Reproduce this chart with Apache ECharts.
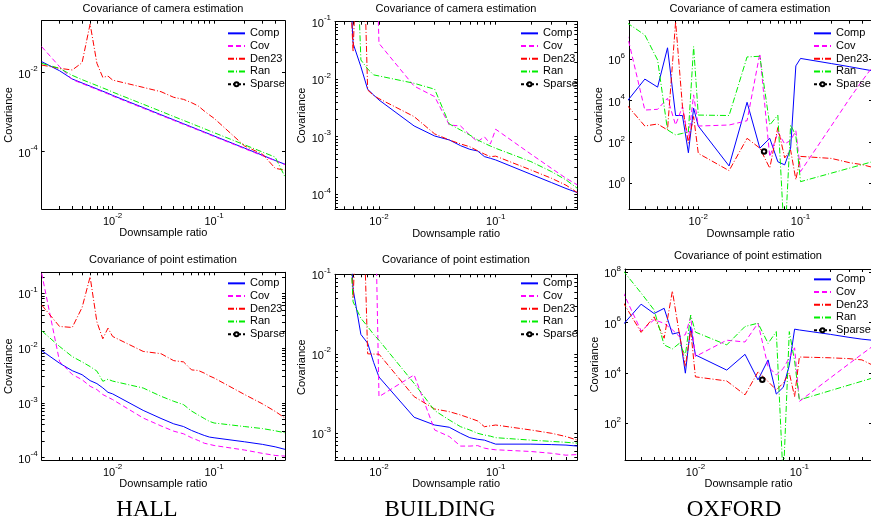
<!DOCTYPE html>
<html>
<head>
<meta charset="utf-8">
<script src="https://cdn.jsdelivr.net/npm/echarts@6/dist/echarts.min.js"></script>
<style>
  html, body { margin: 0; padding: 0; background: #fff; }
  #chart { width: 871px; height: 525px; }
</style>
</head>
<body>
<div id="chart"></div>
<script>
// downsample ratios shared by every curve
const ratio = [0.002, 0.003, 0.004, 0.005, 0.006, 0.007, 0.008, 0.009,
  0.01, 0.02, 0.03, 0.04, 0.05, 0.06, 0.07, 0.08, 0.09, 0.1, 0.2, 0.3, 0.4, 0.5];

// HALL - camera
const hallCamComp = [0.0190, 0.0112, 0.00692, 0.00550, 0.00456, 0.00389, 0.00339, 0.00301, 0.00266, 0.00131, 0.00086,
  6.41e-4, 5.10e-4, 4.23e-4, 3.60e-4, 3.15e-4, 2.79e-4, 2.50e-4, 1.23e-4, 8.1e-5, 6.0e-5, 4.8e-5];
const hallCamCov = [0.0455, 0.0142, 0.0067, 0.0053, 0.0044, 0.00375, 0.00327, 0.0029, 0.00256, 0.00126, 8.3e-4,
  6.2e-4, 4.9e-4, 4.1e-4, 3.5e-4, 3.05e-4, 2.7e-4, 2.42e-4, 1.19e-4, 7.9e-5, 5.9e-5, 4.7e-5];
const hallCamDen = [0.0156, 0.0129, 0.0117, 0.0179, 0.171, 0.0173, 0.0076, 0.0082, 0.0065, 0.00425, 0.0033,
  0.00238, 0.00211, 0.00174, 0.00143, 0.00107, 8.5e-4, 7.0e-4, 1.39e-4, 8.7e-5, 3.8e-5, 3.4e-5];
const hallCamRan = [0.0172, 0.0129, 0.00856, 0.00667, 0.00553, 0.00472, 0.00411, 0.00365, 0.00323, 0.00159, 0.00105,
  7.78e-4, 6.19e-4, 5.14e-4, 4.38e-4, 3.82e-4, 3.38e-4, 3.03e-4, 1.49e-4, 9.8e-5, 7.3e-5, 2.3e-5];

// BUILDING - camera
const bldCamComp = [100, 100, 100, 100, 0.042, 0.0165, 0.00668, 0.00532, 0.00436, 0.00154, 0.00103,
  8.8e-4, 7.0e-4, 6.05e-4, 5.66e-4, 4.52e-4, 4.22e-4, 3.95e-4, 2.23e-4, 1.60e-4, 1.26e-4, 1.07e-4];
const bldCamCov = [100, 100, 100, 100, 100, 100, 100, 100, 0.042, 0.0076, 0.00498,
  0.0016, 0.00154, 0.00107, 8.2e-4, 1.0e-3, 7.5e-4, 1.35e-3, 5.0e-4, 2.83e-4, 1.9e-4, 1.46e-4];
const bldCamDen = [100, 100, 100, 100, 0.030, 100, 0.0065, 0.0052, 0.0046, 0.00224, 0.00112,
  8.8e-4, 7.5e-4, 6.7e-4, 5.7e-4, 5.0e-4, 4.5e-4, 4.6e-4, 2.65e-4, 1.9e-4, 1.44e-4, 1.07e-4];
const bldCamRan = [100, 100, 100, 100, 100, 0.0216, 0.0151, 0.0119, 0.0114, 0.0085, 0.0067,
  0.00167, 0.00131, 0.00107, 8.8e-4, 7.7e-4, 6.9e-4, 6.3e-4, 3.7e-4, 2.48e-4, 1.78e-4, 1.27e-4];

// OXFORD - camera
const oxCamComp = [8900, 1.1e5, 4.5e4, 3.6e6, 1900, 1900, 30, 4300, 590, 6.9, 8300,
  50, 150, 11, 7.8, 50, 4.8e5, 1.1e6, 6.2e5, 4.4e5, 3.4e5, 2.8e5];
const oxCamCov = [1.8e7, 3500, 3800, 1.3e4, 660, 5200, 126, 1.9e4, 590, 660, 1070,
  1.9e6, 19, 300, 80, 120, 350, 3.7, 600, 1.2e4, 9e4, 4e5];
const oxCamDen = [6200, 590, 740, 380, 6.6e7, 5200, 87, 1700, 28, 4.1, 150,
  50, 5.4, 500, 17, 40, 1.5, 20, 16, 10, 8, 6];
const oxCamRan = [5.9e7, 1.5e7, 9.2e5, 380, 220, 260, 300, 4.1e6, 2000, 1900, 1.3e6,
  1.4e6, 660, 2000, 0.001, 660, 200, 1.2, 3.1, 5.4, 8, 11];

// HALL - points
const hallPtComp = [0.0090, 0.0053, 0.00387, 0.00327, 0.00255, 0.00225, 0.00188, 0.00156, 0.00146, 7.3e-4, 5.2e-4,
  4.15e-4, 3.7e-4, 3.14e-4, 2.8e-4, 2.55e-4, 2.38e-4, 2.31e-4, 1.95e-4, 1.75e-4, 1.58e-4, 1.42e-4];
const hallPtCov = [0.23, 0.0057, 0.0033, 0.00265, 0.00201, 0.00175, 0.00142, 0.00127, 0.00115, 5.3e-4, 3.8e-4,
  3.05e-4, 2.73e-4, 2.31e-4, 2.06e-4, 1.84e-4, 1.75e-4, 1.67e-4, 1.38e-4, 1.2e-4, 1.1e-4, 1.07e-4];
const hallPtDen = [0.061, 0.0248, 0.0238, 0.055, 0.20, 0.030, 0.0148, 0.0231, 0.0163, 0.0087, 0.0079,
  0.0059, 0.0056, 0.0040, 0.0039, 0.0035, 0.0031, 0.00285, 0.00142, 9.6e-4, 7.0e-4, 5.3e-4];
const hallPtRan = [0.0207, 0.0107, 0.0070, 0.0056, 0.0046, 0.0038, 0.00248, 0.0027, 0.0025, 0.00187, 0.00132,
  0.00107, 9.3e-4, 7.1e-4, 6.0e-4, 5.2e-4, 4.6e-4, 4.3e-4, 3.7e-4, 3.4e-4, 3.1e-4, 2.85e-4];

// BUILDING - points
const bldPtComp = [10, 10, 10, 10, 0.065, 0.0175, 0.0136, 0.0078, 0.0051, 0.00159, 0.00127,
  0.00119, 0.0010, 8.8e-4, 8.4e-4, 8.2e-4, 7.7e-4, 7.3e-4, 7.3e-4, 7.2e-4, 7.1e-4, 6.9e-4];
const bldPtCov = [10, 10, 10, 10, 10, 10, 10, 10, 0.00289, 0.00542, 0.0011,
  9.1e-4, 6.9e-4, 6.9e-4, 7.0e-4, 6.5e-4, 6.3e-4, 6.2e-4, 5.9e-4, 5.6e-4, 5.3e-4, 5.4e-4];
const bldPtDen = [10, 10, 10, 10, 0.05, 10, 0.0100, 0.0099, 0.0099, 0.00289, 0.00202,
  0.00187, 0.0017, 0.00155, 0.00143, 0.00121, 0.00124, 0.00127, 0.0011, 0.0010, 9.1e-4, 8.2e-4];
const bldPtRan = [10, 10, 10, 10, 0.045, 0.028, 0.022, 0.0175, 0.0148, 0.00425, 0.00193,
  0.00147, 0.00121, 0.0011, 0.0010, 9.5e-4, 9.2e-4, 8.8e-4, 8.2e-4, 7.9e-4, 7.7e-4, 7.5e-4];

// OXFORD - points
const oxPtComp = [8.1e5, 5.4e6, 2.3e6, 3.7e6, 3.5e5, 4.1e5, 9800, 6.9e5, 5.2e4, 1.3e4, 5.5e4,
  5300, 3.3e4, 1450, 2700, 2e4, 5.5e5, 5.1e5, 3.4e5, 2.6e5, 2.2e5, 2.0e5];
const oxPtCov = [1.7e7, 4.7e5, 1.3e6, 9.4e5, 5.2e5, 2.8e5, 3.3e5, 1.7e6, 4.5e4, 2e5, 1.7e5,
  9.5e5, 1.8e4, 8300, 1.5e4, 4e4, 1e5, 740, 6500, 2.3e4, 5.6e4, 1.1e5];
const oxPtDen = [6.8e6, 4.1e5, 1.7e6, 2.4e5, 1.8e7, 3.6e5, 1.8e4, 5e5, 7000, 4800, 1350,
  1.1e4, 4600, 2100, 4000, 1e4, 1150, 4.3e4, 4e4, 3.7e4, 3.3e4, 2.1e4];
const oxPtRan = [1.2e8, 1.5e7, 3.2e6, 1.3e5, 9e4, 1.5e5, 5e4, 2e6, 4.2e5, 1.3e5, 7e5,
  9.5e5, 1.5e5, 4.4e5, 0.5, 4.4e5, 3e4, 850, 2000, 3300, 4700, 6200];

// single Sparse result (OXFORD only)
const sparseRatio = [0.044];
const oxCamSparse = [35];
const oxPtSparse = [5400];

const seriesNames = ['Comp', 'Cov', 'Den23', 'Ran', 'Sparse'];
const xTickLabels = [0.01, 0.1];
const plotTitles = ['Covariance of camera estimation', 'Covariance of camera estimation', 'Covariance of camera estimation',
  'Covariance of point estimation', 'Covariance of point estimation', 'Covariance of point estimation'];
const datasetNames = ['HALL', 'BUILDING', 'OXFORD'];

const FONT = '"Liberation Sans", Arial, sans-serif';

const lineStyles = {
  Comp: {color: '#0000ff', type: 'solid'},
  Cov: {color: '#ff00ff', type: [5, 3]},
  Den23: {color: '#ff0000', type: [6, 2, 1, 2]},
  Ran: {color: '#00ee00', type: [6, 2, 1, 2]}
};

// layout of the six axes boxes
const panels = [
  {box: [41.7, 20.7, 243.3, 188.3], x: [0.002, 0.5], y: [3.54e-6, 0.207], yTicks: [1e-4, 1e-2], minorY: false,
    lines: [hallCamComp, hallCamCov, hallCamDen, hallCamRan], sparse: null, legend: [227, 27], title: [163, 8.5]},
  {box: [335, 21.7, 242.3, 187.6], x: [0.0042, 0.5], y: [5.48e-5, 0.1], yTicks: [1e-4, 1e-3, 1e-2, 1e-1], minorY: true,
    lines: [bldCamComp, bldCamCov, bldCamDen, bldCamRan], sparse: null, legend: [520, 27], title: [456, 8.5]},
  {box: [629, 20.7, 243, 188.6], x: [0.0021, 0.5], y: [0.0552, 7.36e7], yTicks: [1, 1e2, 1e4, 1e6], minorY: false,
    lines: [oxCamComp, oxCamCov, oxCamDen, oxCamRan], sparse: oxCamSparse, legend: [813, 27], title: [750, 8.5]},
  {box: [41.7, 272.3, 243.3, 187.7], x: [0.002, 0.5], y: [9.08e-5, 0.2415], yTicks: [1e-4, 1e-3, 1e-2, 1e-1], minorY: true,
    lines: [hallPtComp, hallPtCov, hallPtDen, hallPtRan], sparse: null, legend: [227, 277], title: [163, 260]},
  {box: [335, 274.3, 242.3, 185.7], x: [0.0042, 0.5], y: [4.61e-4, 0.1], yTicks: [1e-3, 1e-2, 1e-1], minorY: true,
    lines: [bldPtComp, bldPtCov, bldPtDen, bldPtRan], sparse: null, legend: [520, 277], title: [456, 260]},
  {box: [625, 269, 247, 191], x: [0.0021, 0.5], y: [3.48, 1.35e8], yTicks: [1e2, 1e4, 1e6, 1e8], minorY: false,
    lines: [oxPtComp, oxPtCov, oxPtDen, oxPtRan], sparse: oxPtSparse, legend: [813, 273], title: [748, 256]}
];

// tick marks at 1..9 x 10^k inside [lo, hi]
function logTicks(lo, hi, minor) {
  const out = [];
  for (let k = -6; k <= 9; k++) {
    const steps = minor ? [1, 2, 3, 4, 5, 6, 7, 8, 9] : [1];
    steps.forEach(function (m) {
      const v = m * Math.pow(10, k);
      if (v >= lo * 1.0001 && v <= hi / 1.0001) out.push(v);
    });
  }
  return out;
}

function powLabel(v) {
  const e = Math.round(Math.log10(v));
  return '{b|10}{e|' + e + '}';
}

const labelRich = {
  b: {fontSize: 11, fontFamily: FONT, color: '#000', lineHeight: 15, verticalAlign: 'bottom'},
  e: {fontSize: 8, fontFamily: FONT, color: '#000', lineHeight: 9, verticalAlign: 'top'}
};

// legend entries: plain line samples, only Sparse keeps its marker
const hiddenMark = {color: 'rgba(0,0,0,0)', borderColor: 'rgba(0,0,0,0)', borderWidth: 0, opacity: 0};
const legendData = seriesNames.map(function (n) {
  return n === 'Sparse' ? {name: n} : {name: n, itemStyle: hiddenMark};
});

const grids = [], xAxes = [], yAxes = [], series = [], legends = [], graphics = [];

panels.forEach(function (p, i) {
  grids.push({left: p.box[0], top: p.box[1], width: p.box[2], height: p.box[3],
    show: false, outerBoundsMode: 'none', containLabel: false});

  const xTicks = logTicks(p.x[0], p.x[1], true);
  const yTickVals = p.minorY ? logTicks(p.y[0], p.y[1], true) : p.yTicks;
  const axisLine = {show: true, onZero: false, lineStyle: {color: '#000', width: 1}};

  // bottom x axis with labels
  xAxes.push({
    gridIndex: i, type: 'log', logBase: 10, min: p.x[0], max: p.x[1], position: 'bottom',
    axisLine: axisLine,
    axisTick: {show: true, inside: true, length: 3, customValues: xTicks, lineStyle: {color: '#000'}},
    axisLabel: {show: true, margin: 3, customValues: xTickLabels, formatter: powLabel, rich: labelRich},
    splitLine: {show: false}, minorTick: {show: false},
    name: 'Downsample ratio', nameLocation: 'middle', nameGap: 16,
    nameTextStyle: {fontSize: 11, fontFamily: FONT, color: '#000'}
  });
  // top mirror
  xAxes.push({
    gridIndex: i, type: 'log', logBase: 10, min: p.x[0], max: p.x[1], position: 'top',
    axisLine: axisLine,
    axisTick: {show: true, inside: true, length: 3, customValues: xTicks, lineStyle: {color: '#000'}},
    axisLabel: {show: false}, splitLine: {show: false}
  });
  yAxes.push({
    gridIndex: i, type: 'log', logBase: 10, min: p.y[0], max: p.y[1], position: 'left',
    axisLine: axisLine,
    axisTick: {show: true, inside: true, length: 3, customValues: yTickVals, lineStyle: {color: '#000'}},
    axisLabel: {show: true, margin: 4, customValues: p.yTicks, formatter: powLabel, rich: labelRich},
    splitLine: {show: false}, minorTick: {show: false},
    name: 'Covariance', nameLocation: 'middle', nameGap: 24,
    nameTextStyle: {fontSize: 11, fontFamily: FONT, color: '#000'}
  });
  yAxes.push({
    gridIndex: i, type: 'log', logBase: 10, min: p.y[0], max: p.y[1], position: 'right',
    axisLine: axisLine,
    axisTick: {show: true, inside: true, length: 3, customValues: yTickVals, lineStyle: {color: '#000'}},
    axisLabel: {show: false}, splitLine: {show: false}
  });

  p.lines.forEach(function (vals, j) {
    const name = seriesNames[j];
    series.push({
      name: name, type: 'line', xAxisIndex: 2 * i, yAxisIndex: 2 * i,
      data: ratio.map(function (r, k) { return [r, vals[k]]; }),
      symbol: 'none', showSymbol: false, clip: true, silent: true,
      lineStyle: {color: lineStyles[name].color, type: lineStyles[name].type, width: 1},
      itemStyle: {color: lineStyles[name].color}
    });
  });
  if (p.sparse) {
    series.push({
      name: 'Sparse', type: 'line', xAxisIndex: 2 * i, yAxisIndex: 2 * i,
      data: sparseRatio.map(function (r, k) { return [r, p.sparse[k]]; }),
      symbol: 'emptyCircle', symbolSize: 4.5, showSymbol: true, silent: true,
      lineStyle: {color: '#000', type: [3, 2], width: 1},
      itemStyle: {color: '#000', borderColor: '#000', borderWidth: 1.2}
    });
  }

  legends.push({
    orient: 'vertical', left: p.legend[0], top: p.legend[1],
    itemWidth: 17, itemHeight: 5, itemGap: 0, padding: 0,
    selectedMode: false, data: legendData,
    textStyle: {fontSize: 11, fontFamily: FONT, color: '#000', lineHeight: 12.7}
  });

  graphics.push({
    type: 'text', x: p.title[0], y: p.title[1], silent: true,
    style: {text: plotTitles[i], font: '11px ' + FONT, fill: '#000', align: 'center', verticalAlign: 'middle'}
  });
});

const datasetCenters = [[147, 510], [440, 510], [734, 510]];
datasetNames.forEach(function (n, i) {
  graphics.push({
    type: 'text', x: datasetCenters[i][0], y: datasetCenters[i][1], silent: true,
    style: {text: n, font: '23px "Liberation Serif", "DejaVu Serif", serif', fill: '#000',
      align: 'center', verticalAlign: 'middle'}
  });
});

const chart = echarts.init(document.getElementById('chart'), null, {renderer: 'canvas'});
chart.setOption({
  animation: false,
  backgroundColor: '#fff',
  grid: grids,
  xAxis: xAxes,
  yAxis: yAxes,
  legend: legends,
  graphic: graphics,
  tooltip: {show: false},
  series: series
});
</script>
</body>
</html>
